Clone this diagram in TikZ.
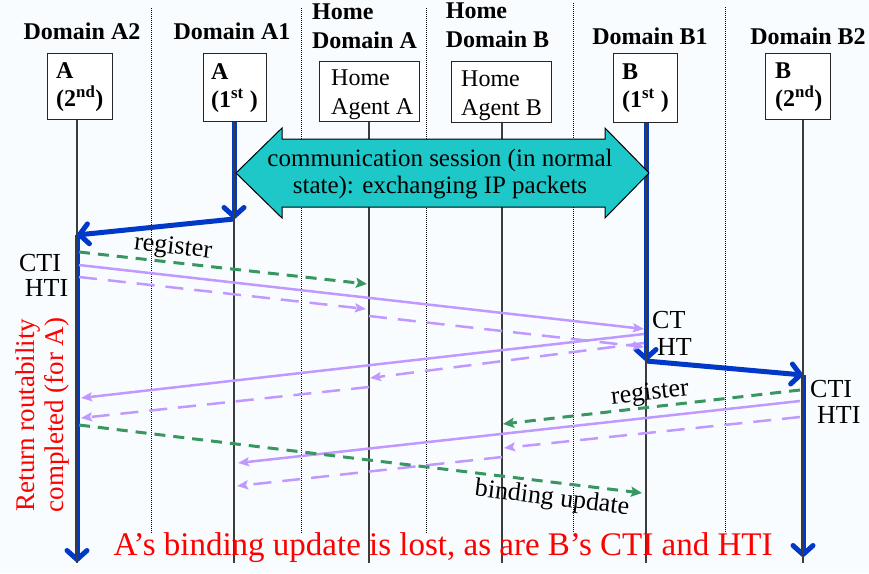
\documentclass[tikz,border=0pt]{standalone}
\usepackage{fontspec}
\setmainfont{Liberation Serif}
\usetikzlibrary{arrows.meta}
\definecolor{bgc}{RGB}{249,252,254}
\definecolor{myblue}{RGB}{0,56,200}
\definecolor{mypurple}{RGB}{191,153,255}
\definecolor{mygreen}{RGB}{56,150,96}
\definecolor{mycyan}{RGB}{30,200,200}
\definecolor{lifec}{RGB}{60,60,60}
\begin{document}
\begin{tikzpicture}[x=1pt,y=-1pt,
  hdr/.style={font=\fontsize{24}{29}\selectfont\bfseries, align=left, inner sep=0pt},
  box/.style={draw=black!85, line width=1.2pt, fill=white, inner sep=0pt, anchor=north west},
  boxb/.style={font=\fontsize{24}{28}\selectfont\bfseries, align=left, inner sep=0pt, anchor=west},
  boxr/.style={font=\fontsize{24}{29}\selectfont, align=left, inner sep=0pt, anchor=west},
  lbl/.style={font=\fontsize{26}{30}\selectfont, inner sep=0pt},
  life/.style={draw=lifec, line width=1.2pt},
  sep/.style={draw=black, line width=0.8pt, dash pattern=on 1pt off 1pt},
  bluearr/.style={draw=myblue, line width=5pt, -{Straight Barb[length=9pt,width=20pt,round]}},
  purp/.style={draw=mypurple, line width=2.5pt, -{Stealth[length=11pt,width=9pt,inset=2pt]}},
  purpd/.style={purp, dash pattern=on 18pt off 11pt},
  grn/.style={draw=mygreen, line width=3pt, dash pattern=on 11pt off 8pt, -{Stealth[length=11pt,width=10pt,inset=2pt]}}
]
\useasboundingbox (0,0) rectangle (869,573);
\fill[bgc] (0,0) rectangle (869,573);

% dotted separators
\draw[sep] (151,8) -- (151,533);
\draw[sep] (301,8) -- (301,533);
\draw[sep] (426,8) -- (426,533);
\draw[sep] (573,3) -- (573,533);
\draw[sep] (725,7) -- (725,533);

% lifeline coordinates
\coordinate (A2t) at (77,119);  \coordinate (A2b) at (77,563);
\coordinate (A1t) at (234,121); \coordinate (A1b) at (234,563);
\coordinate (HAt) at (369,121); \coordinate (HAb) at (369,563);
\coordinate (HBt) at (502,122); \coordinate (HBb) at (502,563);
\coordinate (B1t) at (646,122); \coordinate (B1b) at (646,563);
\coordinate (B2t) at (803,119); \coordinate (B2b) at (803,563);

% blue moves
\coordinate (s1) at (234,219);
\coordinate (s2) at (77,235);
\coordinate (s3) at (77,562);
\coordinate (t1) at (646,361);
\coordinate (t2) at (803,375);
\coordinate (t3) at (803,557);
\draw[bluearr] (A1t) -- (s1);
\draw[bluearr] (s1) -- (s2);
\draw[bluearr] (s2) -- (s3);
\draw[bluearr] (B1t) -- (t1);
\draw[bluearr] (t1) -- (t2);
\draw[bluearr] (t2) -- (t3);

% lifelines
\draw[life] (A2t) -- (A2b);
\draw[life] (A1t) -- (A1b);
\draw[life] (HAt) -- (HAb);
\draw[life] (HBt) -- (HBb);
\draw[life] (B1t) -- (B1b);
\draw[life] (B2t) -- (B2b);

% communication session double arrow
\draw[fill=mycyan, draw=black, line width=1pt]
  (236,173) -- (282,128) -- (282,139) -- (605,139) -- (605,128) -- (649,173)
  -- (605,218) -- (605,207) -- (282,207) -- (282,218) -- cycle;
\node[font=\fontsize{25}{27}\selectfont, align=center, inner sep=0pt] (comm) at (440,174)
  {communication session (in normal\\state): exchanging IP packets};

% messages, A side
\coordinate (gA1) at (79,252);  \coordinate (gA2) at (367,284);
\coordinate (pA1) at (79,265);  \coordinate (pA2) at (644,329);
\coordinate (dA1) at (79,277);  \coordinate (dA2) at (366,309);
\coordinate (dA3) at (369,316); \coordinate (dA4) at (644,347);
\coordinate (rc1) at (644,334); \coordinate (rc2) at (81,398);
\coordinate (rh1) at (644,343); \coordinate (rh2) at (370,378);
\coordinate (rh3) at (369,387); \coordinate (rh4) at (81,418);
\draw[grn] (gA1) -- (gA2);
\draw[purp] (pA1) -- (pA2);
\draw[purpd] (dA1) -- (dA2);
\draw[purpd] (dA3) -- (dA4);
\draw[purp] (rc1) -- (rc2);
\draw[purpd] (rh1) -- (rh2);
\draw[purpd] (rh3) -- (rh4);

% messages, B side
\coordinate (gB1) at (800,390); \coordinate (gB2) at (503,424);
\coordinate (pB1) at (800,401); \coordinate (pB2) at (238,463);
\coordinate (dB1) at (800,417); \coordinate (dB2) at (504,448);
\coordinate (dB3) at (502,457); \coordinate (dB4) at (237,486);
\draw[grn] (gB1) -- (gB2);
\draw[purp] (pB1) -- (pB2);
\draw[purpd] (dB1) -- (dB2);
\draw[purpd] (dB3) -- (dB4);

% binding update
\coordinate (bu1) at (79,425); \coordinate (bu2) at (642,493);
\draw[grn] (bu1) -- (bu2);

% labels on messages
\node[lbl, rotate=-6.3] (regA) at (173,248) {register};
\node[lbl, rotate=6.5] (regB) at (650,394) {register};
\node[lbl, rotate=-7] (bul) at (552,499) {binding update};
\node[lbl] (ctiA) at (40,263) {CTI};
\node[lbl] (htiA) at (46.5,288) {HTI};
\node[lbl, anchor=west] (ctB) at (652,320) {CT};
\node[lbl, anchor=west] (htB) at (657,347) {HT};
\node[lbl, anchor=west] (ctiB) at (810,389) {CTI};
\node[lbl, anchor=west] (htiB) at (817,415) {HTI};

% headers
\node[hdr] (hA2) at (82,31) {Domain A2};
\node[hdr] (hA1) at (232,31) {Domain A1};
\node[hdr] (hHA) at (364.5,26) {Home\\Domain A};
\node[hdr] (hHB) at (497.5,25) {Home\\Domain B};
\node[hdr] (hB1) at (650,36) {Domain B1};
\node[hdr] (hB2) at (808,36) {Domain B2};

% boxes
\node[box, minimum width=65pt, minimum height=66pt] (bA2) at (47,53) {};
\node[box, minimum width=63pt, minimum height=68pt] (bA1) at (203,53) {};
\node[box, minimum width=100pt, minimum height=60pt] (bHA) at (319,61) {};
\node[box, minimum width=100pt, minimum height=61pt] (bHB) at (451,61) {};
\node[box, minimum width=64pt, minimum height=69pt] (bB1) at (613,53) {};
\node[box, minimum width=65pt, minimum height=66pt] (bB2) at (765,53) {};
\node[boxb] (tA2) at (56,87) {A\\(2\textsuperscript{nd})};
\node[boxb] (tA1) at (211,88) {A\\(1\textsuperscript{st} )};
\node[boxr] (tHA) at (331,95) {Home\\Agent A};
\node[boxr] (tHB) at (461,96) {Home\\Agent B};
\node[boxb] (tB1) at (622,88) {B\\(1\textsuperscript{st} )};
\node[boxb] (tB2) at (775,87) {B\\(2\textsuperscript{nd})};

% red annotations
\node[font=\fontsize{27}{29}\selectfont, text=red, rotate=90, align=center, inner sep=0pt] (rr) at (43,415)
  {Return routability\\completed (for A)};
\node[font=\fontsize{33}{36}\selectfont, text=red, inner sep=0pt] (lost) at (443,548)
  {A’s binding update is lost, as are B’s CTI and HTI};
\end{tikzpicture}
\end{document}
